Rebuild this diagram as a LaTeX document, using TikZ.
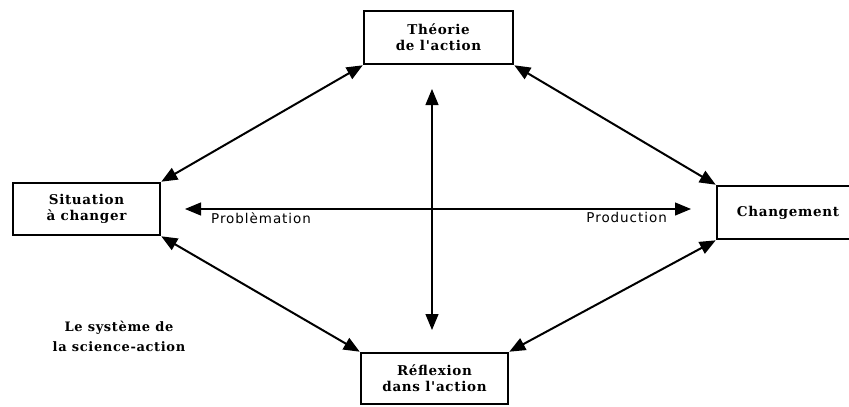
\documentclass[tikz,border=0pt]{standalone}
\usepackage{fontspec}
\setmainfont{DejaVu Serif}
\newfontfamily\boxfont[LetterSpace=5]{DejaVu Serif}
\newfontfamily\labelfont[LetterSpace=7]{DejaVu Sans}
\usetikzlibrary{arrows.meta}
\begin{document}
\begin{tikzpicture}[x=1pt,y=-1pt,
  stage/.style={draw, line width=2.6pt, fill=white, inner sep=0pt,
    align=center, font=\boxfont\bfseries\fontsize{13.5}{16}\selectfont},
  link/.style={line width=2pt, {Triangle[length=16pt,width=13pt]}-{Triangle[length=16pt,width=13pt]}},
  axis/.style={line width=1.2pt, {Triangle[length=16pt,width=13pt]}-{Triangle[length=16pt,width=13pt]}},
  axislabel/.style={font=\labelfont\fontsize{13.5}{15}\selectfont, inner sep=0pt},
  caption/.style={align=center, font=\boxfont\bfseries\fontsize{13}{20}\selectfont}]
\useasboundingbox (0,0) rectangle (849,407);
\begin{scope}
\clip (0,0) rectangle (849,407);
% the four stages of the cycle
\node[stage, minimum width=149pt, minimum height=53pt] (th) at (438.5,37.5) {Théorie\\de l'action};
\node[stage, minimum width=147pt, minimum height=52pt] (sit) at (86.5,209) {Situation\\à changer};
\node[stage, minimum width=142pt, minimum height=53pt] (chg) at (788,212.5) {Changement};
\node[stage, minimum width=147pt, minimum height=51pt] (ref) at (434.5,378.5) {Réflexion\\dans l'action};
\end{scope}
% links between stages
\draw[link] (sit.north east) -- (th.south west);
\draw[link] (th.south east) -- (chg.north west);
\draw[link] (sit.south east) -- (ref.north west);
\draw[link] (chg.south west) -- (ref.north east);
% the two axes
\coordinate (hl) at (185,209);
\coordinate (hr) at (691,209);
\coordinate (vt) at (432,89);
\coordinate (vb) at (432,330);
\draw[axis] (hl) -- (hr);
\draw[axis] (vt) -- (vb);
\node[axislabel, anchor=north west] (prob) at (211,212) {Problèmation};
\node[axislabel, anchor=north east] (prod) at (667,212) {Production};
% caption
\node[caption] (cap) at (119,336) {Le système de\\la science-action};
\end{tikzpicture}
\end{document}
